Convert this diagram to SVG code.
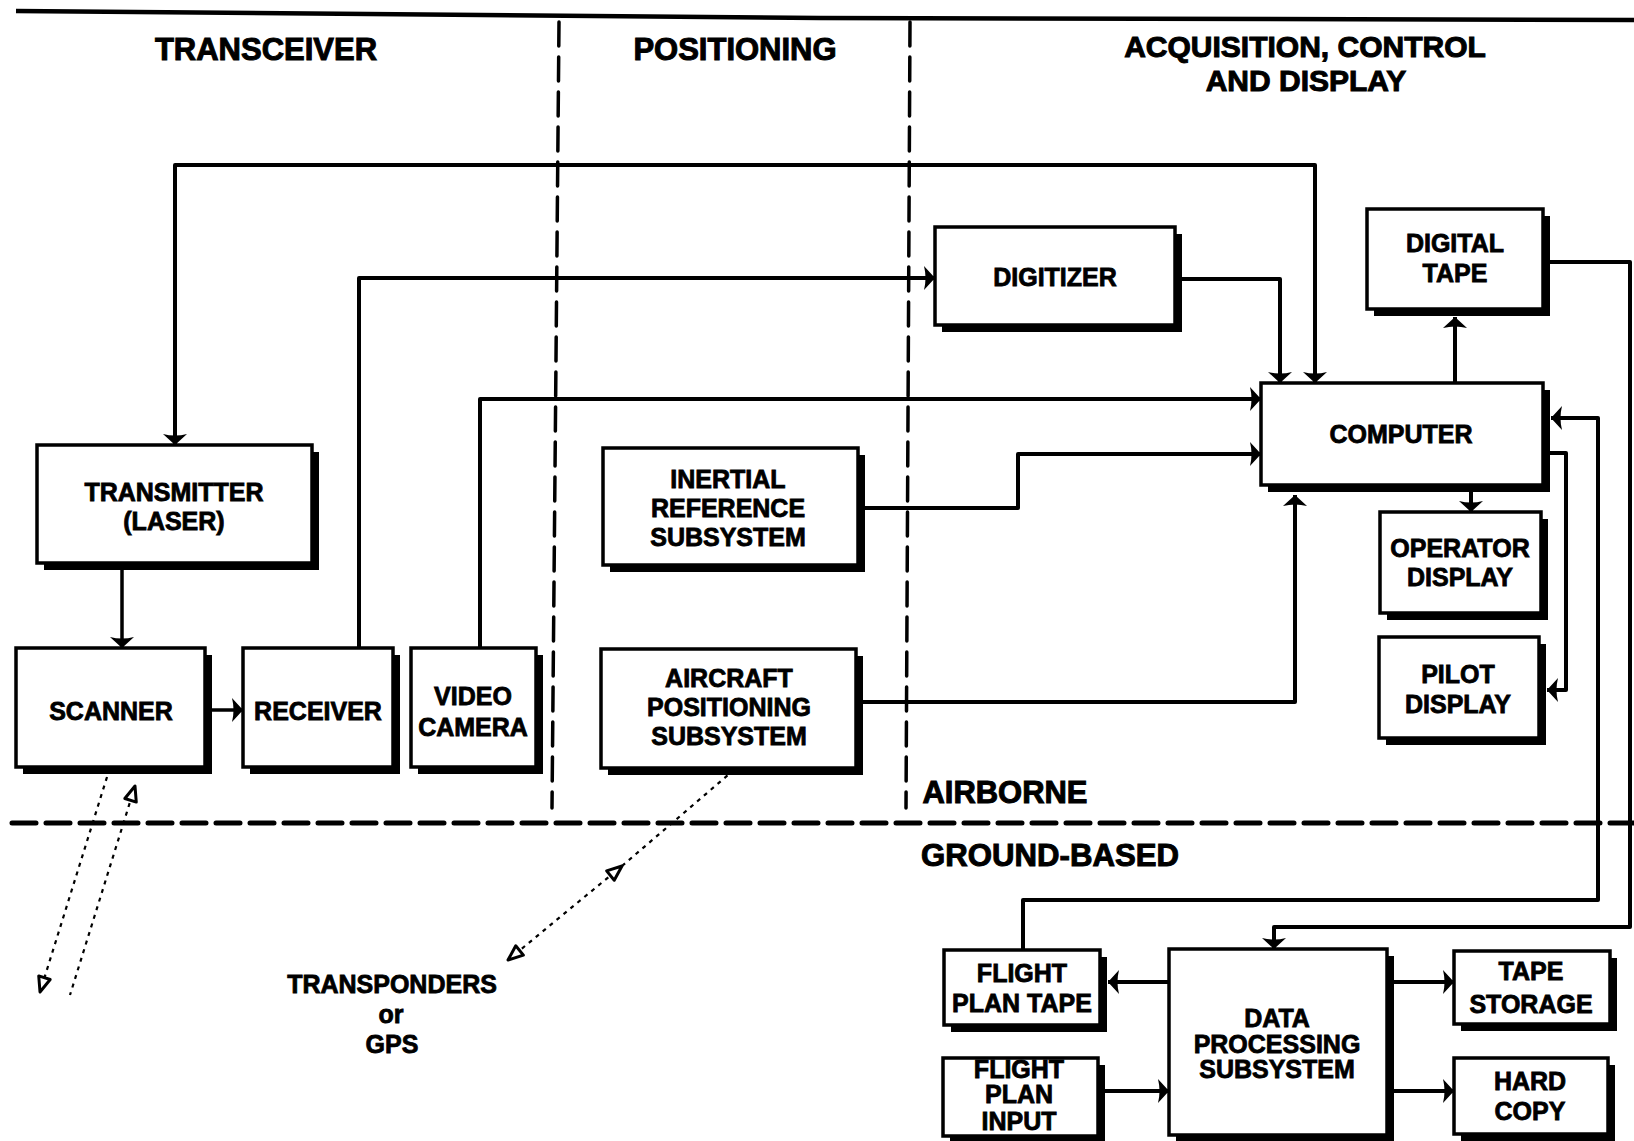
<svg xmlns="http://www.w3.org/2000/svg" width="1634" height="1141" viewBox="0 0 1634 1141">
<style>
.box{fill:#fff;stroke:#000;stroke-width:3.5}
.sh{fill:#000}
.t{font-family:"Liberation Sans",Arial,sans-serif;font-weight:bold;font-size:25px;fill:#000;stroke:#000;stroke-width:0.8;text-anchor:middle}
.h{font-family:"Liberation Sans",Arial,sans-serif;font-weight:bold;font-size:31px;fill:#000;stroke:#000;stroke-width:1;text-anchor:middle}
.c{fill:none;stroke:#000;stroke-width:4;stroke-linejoin:round}
.dot{fill:none;stroke:#000;stroke-width:2.2;stroke-dasharray:4 5}
.vd{fill:none;stroke:#000;stroke-width:3.5;stroke-dasharray:24 11;stroke-linecap:round}
.hd{fill:none;stroke:#000;stroke-width:5;stroke-dasharray:24 10;stroke-linecap:round}
</style>
<defs>
<marker id="ah" markerUnits="userSpaceOnUse" viewBox="-13 -14 15 28" markerWidth="15" markerHeight="28" refX="0" refY="0" orient="auto-start-reverse">
<path d="M-11,-12 L0,0 L-11,12 Q-8,0 -11,-12Z" fill="#000"/>
</marker>
<marker id="oh" markerUnits="userSpaceOnUse" viewBox="-18 -10 20 20" markerWidth="20" markerHeight="20" refX="0" refY="0" orient="auto-start-reverse">
<path d="M-15,-6 L0,0 L-15,6 Z" fill="#fff" stroke="#000" stroke-width="3" stroke-linejoin="round"/>
</marker>
</defs>
<rect width="1634" height="1141" fill="#fff"/>

<g id="frame">
<path d="M16,11 L820,18 L1634,20" fill="none" stroke="#000" stroke-width="4.5"/>
<path class="vd" d="M559,22 L552,808"/>
<path class="vd" d="M910,22 L906,808"/>
<path class="hd" d="M12,823 H1634"/>
</g>

<g id="headings">
<text class="h" x="266" y="60">TRANSCEIVER</text>
<text class="h" x="735" y="60">POSITIONING</text>
<text class="h" x="1305" y="57" style="font-size:30px">ACQUISITION, CONTROL</text>
<text class="h" x="1306" y="91" style="font-size:30px">AND DISPLAY</text>
<text class="h" x="1005" y="803" textLength="165" lengthAdjust="spacingAndGlyphs">AIRBORNE</text>
<text class="h" x="1050" y="866" textLength="258" lengthAdjust="spacingAndGlyphs">GROUND-BASED</text>
</g>

<g id="connectors">
<path class="c" d="M1315,383 V165 H175 V445" marker-start="url(#ah)" marker-end="url(#ah)"/>
<path class="c" d="M359,648 V278 H935" marker-end="url(#ah)"/>
<path class="c" d="M480,648 V399 H1261" marker-end="url(#ah)"/>
<path class="c" d="M865,508 H1018 V454 H1261" marker-end="url(#ah)"/>
<path class="c" d="M863,702 H1295 V495" marker-end="url(#ah)"/>
<path class="c" d="M1182,279 H1280 V383" marker-end="url(#ah)"/>
<path class="c" d="M1455,383 V317" marker-end="url(#ah)"/>
<path class="c" d="M1471,492 V512" marker-end="url(#ah)"/>
<path class="c" d="M1550,453 H1566 V690 H1547" marker-end="url(#ah)"/>
<path class="c" d="M1023,950 V900 H1598 V418 H1551" marker-end="url(#ah)"/>
<path class="c" d="M1550,262 H1630 V927 H1274 V949" marker-end="url(#ah)"/>
<path class="c" d="M1169,982 H1108" marker-end="url(#ah)"/>
<path class="c" d="M1105,1091 H1169" marker-end="url(#ah)"/>
<path class="c" d="M1394,982 H1454" marker-end="url(#ah)"/>
<path class="c" d="M1394,1091 H1454" marker-end="url(#ah)"/>
<path class="c" style="stroke-width:3.5" d="M122,570 V648" marker-end="url(#ah)"/>
<path class="c" style="stroke-width:3.5" d="M212,710 H243" marker-end="url(#ah)"/>
<path class="dot" d="M107,777 L40,992" marker-end="url(#oh)"/>
<path class="dot" d="M135,786 L70,995" marker-start="url(#oh)"/>
<path class="dot" d="M508,960 L622,866" marker-start="url(#oh)" marker-end="url(#oh)"/>
<path class="dot" d="M622,866 L728,775"/>
</g>

<g id="transmitter">
<rect class="sh" x="44" y="452" width="275" height="118"/>
<rect class="box" x="37" y="445" width="275" height="118"/>
<text class="t" x="174" y="501">TRANSMITTER</text>
<text class="t" x="174" y="530">(LASER)</text>
</g>
<g id="scanner">
<rect class="sh" x="23" y="655" width="189" height="119"/>
<rect class="box" x="16" y="648" width="189" height="119"/>
<text class="t" x="111" y="720">SCANNER</text>
</g>
<g id="receiver">
<rect class="sh" x="250" y="655" width="150" height="119"/>
<rect class="box" x="243" y="648" width="150" height="119"/>
<text class="t" x="318" y="720">RECEIVER</text>
</g>
<g id="video-camera">
<rect class="sh" x="418" y="655" width="125" height="119"/>
<rect class="box" x="411" y="648" width="125" height="119"/>
<text class="t" x="473" y="705">VIDEO</text>
<text class="t" x="473" y="736">CAMERA</text>
</g>
<g id="inertial">
<rect class="sh" x="610" y="455" width="255" height="117"/>
<rect class="box" x="603" y="448" width="255" height="117"/>
<text class="t" x="728" y="488">INERTIAL</text>
<text class="t" x="728" y="517">REFERENCE</text>
<text class="t" x="728" y="546">SUBSYSTEM</text>
</g>
<g id="aircraft">
<rect class="sh" x="608" y="656" width="255" height="119"/>
<rect class="box" x="601" y="649" width="255" height="119"/>
<text class="t" x="729" y="687">AIRCRAFT</text>
<text class="t" x="729" y="716">POSITIONING</text>
<text class="t" x="729" y="745">SUBSYSTEM</text>
</g>
<g id="digitizer">
<rect class="sh" x="942" y="234" width="240" height="98"/>
<rect class="box" x="935" y="227" width="240" height="98"/>
<text class="t" x="1055" y="286">DIGITIZER</text>
</g>
<g id="computer">
<rect class="sh" x="1268" y="390" width="282" height="102"/>
<rect class="box" x="1261" y="383" width="282" height="102"/>
<text class="t" x="1401" y="443">COMPUTER</text>
</g>
<g id="digital-tape">
<rect class="sh" x="1374" y="216" width="176" height="100"/>
<rect class="box" x="1367" y="209" width="176" height="100"/>
<text class="t" x="1455" y="252">DIGITAL</text>
<text class="t" x="1455" y="282">TAPE</text>
</g>
<g id="operator-display">
<rect class="sh" x="1387" y="519" width="161" height="101"/>
<rect class="box" x="1380" y="512" width="161" height="101"/>
<text class="t" x="1460" y="557">OPERATOR</text>
<text class="t" x="1460" y="586">DISPLAY</text>
</g>
<g id="pilot-display">
<rect class="sh" x="1386" y="644" width="160" height="101"/>
<rect class="box" x="1379" y="637" width="160" height="101"/>
<text class="t" x="1458" y="683">PILOT</text>
<text class="t" x="1458" y="713">DISPLAY</text>
</g>
<g id="flight-plan-tape">
<rect class="sh" x="951" y="957" width="156" height="75"/>
<rect class="box" x="944" y="950" width="156" height="75"/>
<text class="t" x="1022" y="982">FLIGHT</text>
<text class="t" x="1022" y="1012">PLAN TAPE</text>
</g>
<g id="flight-plan-input">
<rect class="sh" x="950" y="1065" width="155" height="78"/>
<rect class="box" x="943" y="1058" width="155" height="78"/>
<text class="t" x="1019" y="1078">FLIGHT</text>
<text class="t" x="1019" y="1103">PLAN</text>
<text class="t" x="1019" y="1130">INPUT</text>
</g>
<g id="data-processing">
<rect class="sh" x="1176" y="956" width="218" height="186"/>
<rect class="box" x="1169" y="949" width="218" height="186"/>
<text class="t" x="1277" y="1027">DATA</text>
<text class="t" x="1277" y="1053">PROCESSING</text>
<text class="t" x="1277" y="1078">SUBSYSTEM</text>
</g>
<g id="tape-storage">
<rect class="sh" x="1461" y="958" width="156" height="73"/>
<rect class="box" x="1454" y="951" width="156" height="73"/>
<text class="t" x="1531" y="980">TAPE</text>
<text class="t" x="1531" y="1013">STORAGE</text>
</g>
<g id="hard-copy">
<rect class="sh" x="1461" y="1065" width="154" height="76"/>
<rect class="box" x="1454" y="1058" width="154" height="76"/>
<text class="t" x="1530" y="1090">HARD</text>
<text class="t" x="1530" y="1120">COPY</text>
</g>

<g id="transponders">
<text class="t" x="392" y="993">TRANSPONDERS</text>
<text class="t" x="391" y="1023">or</text>
<text class="t" x="392" y="1053">GPS</text>
</g>
</svg>
